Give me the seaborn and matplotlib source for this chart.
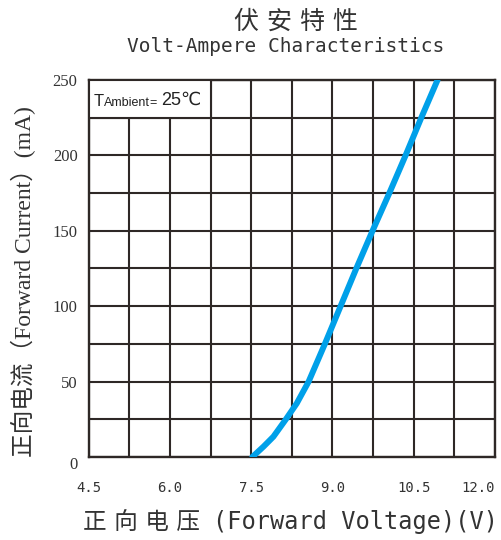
import pandas as pd
import matplotlib
matplotlib.use('Agg')
import matplotlib.pyplot as plt
from matplotlib.patches import Rectangle
from matplotlib.ticker import MultipleLocator
import seaborn as sns

# values
voltage = [7.52, 7.73, 7.91, 8.14, 8.34, 8.56, 8.86, 9.15, 9.44, 9.74, 10.05, 10.35, 10.64, 10.94]
current = [0, 7, 13.5, 25, 35.5, 50, 75, 100, 125, 150, 175, 200, 225, 250]
x_ticks = [4.5, 6.0, 7.5, 9.0, 10.5, 12.0]
x_tick_labels = ['4.5', '6.0', '7.5', '9.0', '10.5', '12.0']
y_ticks = [0, 50, 100, 150, 200, 250]
y_tick_labels = ['0', '50', '100', '150', '200', '250']

df = pd.DataFrame({'V': voltage, 'I': current})

sns.set_style('white')
plt.rcParams['font.family'] = ['DejaVu Serif', 'Noto Sans CJK SC']

dark = '#2e2826'
txt = '#333333'
mono = ['DejaVu Sans Mono', 'Noto Sans CJK SC']
serif = ['Liberation Serif', 'Noto Sans CJK SC']
cjk = ['DejaVu Serif', 'Noto Sans CJK SC']

fig = plt.figure(figsize=(5.02, 5.40), dpi=100)
ax = fig.add_axes([0.1767, 0.1537, 0.8093, 0.6982])

sns.lineplot(data=df, x='V', y='I', ax=ax, color='#00a0e9', lw=4.3,
             solid_capstyle='round', solid_joinstyle='round', zorder=5, sort=False)

ax.set_xlim(4.5, 12.0)
ax.set_ylim(0, 250)
ax.set_xticks(x_ticks)
ax.set_xticklabels(x_tick_labels, family=mono, fontsize=10, color=txt)
ax.set_yticks(y_ticks)
ax.set_yticklabels(y_tick_labels, family=serif, fontsize=12, color=txt)
ax.get_xticklabels()[-1].set_ha('right')
ax.get_yticklabels()[0].set_va('top')
ax.xaxis.set_minor_locator(MultipleLocator(0.75))
ax.yaxis.set_minor_locator(MultipleLocator(25))
ax.grid(True, which='both', color=dark, lw=1.5)
ax.set_axisbelow(True)
ax.tick_params(axis='both', which='both', length=0)
ax.tick_params(axis='x', pad=17)
ax.tick_params(axis='y', pad=8)
for s in ax.spines.values():
    s.set_color(dark)
    s.set_linewidth(1.7)
    s.set_visible(True)
ax.set_xlabel('')
ax.set_ylabel('')

# titles and axis labels
fig.text(0.5906, 0.960, '伏 安 特 性', ha='center', va='center', fontsize=18,
         family=cjk, color=txt)
fig.text(0.5697, 0.913, 'Volt-Ampere Characteristics', ha='center', va='center',
         fontsize=14, family=mono, color=txt)
fig.text(0.165, 0.0333, '正 向 电 压', ha='left', va='center', fontsize=17,
         family=cjk, color=txt)
fig.text(0.4243, 0.0333, '(Forward Voltage)(V)', ha='left', va='center',
         fontsize=17, family=mono, color=txt)
fig.text(0.046, 0.4787, '正向电流（Forward Current）(mA)', ha='center', va='center',
         rotation=90, fontsize=17, family=serif, color=txt)

# ambient temperature box in the top-left cells
ax.add_patch(Rectangle((4.5, 225), 2.25, 25, facecolor='white', edgecolor=dark,
                       lw=1.5, zorder=3))
sans = ['Liberation Sans', 'DejaVu Sans']
t1 = ax.text(4.6, 232.8, 'T', fontsize=12, family=sans, color='#222222',
             va='baseline', zorder=6)
t2 = ax.annotate('Ambient', xy=(1, 0), xycoords=t1, va='bottom', fontsize=9,
                 family=sans, color='#222222', zorder=6)
t3 = ax.annotate('= ', xy=(1, 0), xycoords=t2, va='bottom', fontsize=9,
                 family=sans, color='#222222', zorder=6)
ax.annotate('25℃', xy=(1, 0), xycoords=t3, va='bottom', fontsize=13,
            family=sans, color='#222222', zorder=6)

fig.savefig('out.png', dpi=100)
